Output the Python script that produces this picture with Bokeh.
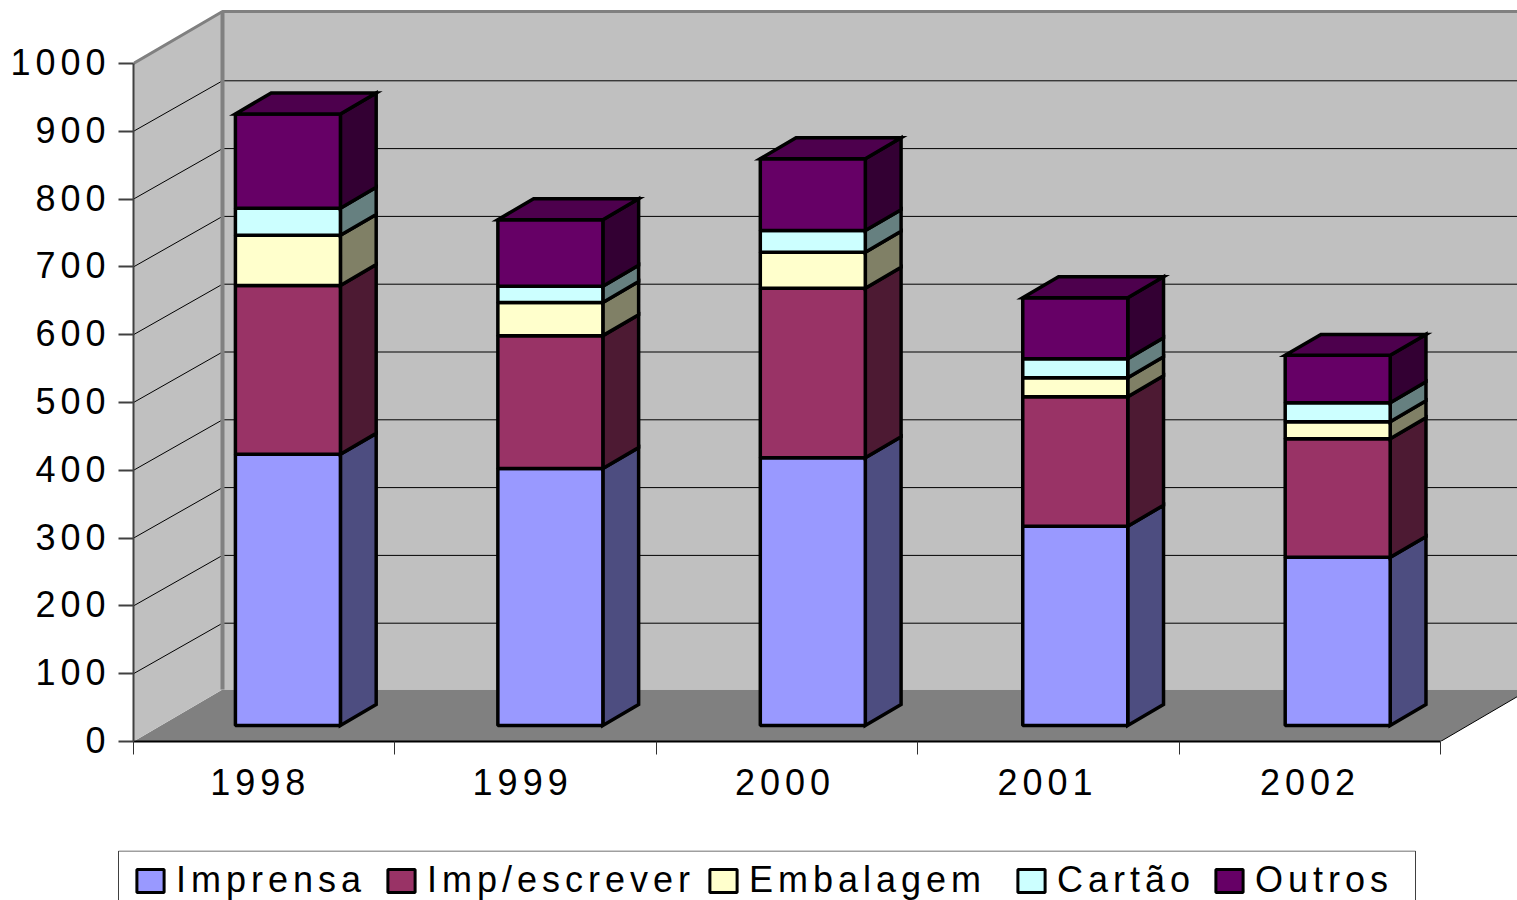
import numpy as np
from bokeh.core.properties import value
from bokeh.embed import file_html
from bokeh.layouts import column, row
from bokeh.resources import INLINE
from bokeh.plotting import figure
from bokeh.models import FixedTicker, LinearAxis, Legend, LegendItem, Range1d

years = ["1998", "1999", "2000", "2001", "2002"]
imprensa = [400, 379, 395, 294, 248]
imp_escrever = [249, 196, 250, 191, 175]
embalagem = [74, 49, 53, 28, 25]
cartao = [40, 24, 32, 28, 28]
outros = [139, 98, 106, 90, 70]
series_names = ["Imprensa", "Imp/escrever", "Embalagem", "Cartão", "Outros"]
value_ticks = list(range(0, 1001, 100))

front_colors = ["#9999FF", "#993366", "#FFFFCC", "#CCFFFF", "#660066"]
side_colors = ["#4D4D80", "#4D1A33", "#808066", "#668080", "#330033"]
top_color = "#4D004D"

FONT = "Liberation Sans"
FONT_PX = 36
LS = 5  # letter spacing of every text, px

# pixel layout of the 3D box
LABEL_W = 118
PX_LEFT, PX_ZERO, PX_1000 = 133, 741, 63
MAIN_H = 850
PX_CAT = (1440 - 133) / 5
PX_UNIT = (PX_ZERO - PX_1000) / 1000
X_END = (1517 - PX_LEFT) / PX_CAT
Y_END = PX_ZERO / PX_UNIT
DX = 89 / PX_CAT          # full depth, in category units
DV = 52 / PX_UNIT         # full depth, in value units
GRID_DROP = 1.5 / PX_UNIT
D_FRONT, D_BACK = 0.308, 0.71
BAR_PITCH, BAR_START, BAR_W = 1.004, 0.285, 105 / PX_CAT
EDGE = 3.5


def proj(x, v, d):
    return x + d * DX, v + d * DV


p = figure(width=1517 - LABEL_W, height=MAIN_H, x_range=(0, X_END), y_range=Range1d(0, Y_END),
           output_backend="svg", toolbar_location=None, x_axis_type=None, y_axis_type=None,
           min_border_left=PX_LEFT - LABEL_W, min_border_right=0, min_border_top=0,
           min_border_bottom=MAIN_H - PX_ZERO, outline_line_color=None, frame_align=False)
p.grid.visible = False

GRAY = "#C0C0C0"
n = len(years)
# floor
corners = [proj(0, 0, 0), proj(0, 0, 1), proj(n, 0, 1), proj(n, 0, 0)]
p.patch([c[0] for c in corners], [c[1] for c in corners], fill_color="#808080", line_color=None)
# walls
corners = [proj(0, 0, 0), proj(0, 1000, 0), proj(0, 1000, 1), proj(0, 0, 1)]
p.patch([c[0] for c in corners], [c[1] for c in corners], fill_color=GRAY, line_color=None)
corners = [proj(0, 0, 1), proj(0, 1000, 1), proj(n, 1000, 1), proj(n, 0, 1)]
p.patch([c[0] for c in corners], [c[1] for c in corners], fill_color=GRAY, line_color=None)
# gridlines
gx, gy = [], []
for t in value_ticks[1:-1]:
    a, b, c = proj(0, t, 0), proj(0, t, 1), proj(n, t, 1)
    gx.append([a[0], b[0], c[0]])
    gy.append([a[1], b[1] - GRID_DROP, c[1] - GRID_DROP])
p.multi_line(gx, gy, line_color="#000000", line_width=1)
# wall edges
a, b, c, d = proj(0, 1000, 0), proj(0, 1000, 1), proj(n, 1000, 1), proj(0, 0, 1)
p.line([a[0], b[0], c[0]], [a[1], b[1], c[1]], line_color="#808080", line_width=3)
p.line([b[0], d[0]], [b[1], d[1]], line_color="#808080", line_width=4)
# floor front-right edge
a, b = proj(n, 0, 0), proj(n, 0, 1)
p.line([a[0], b[0]], [a[1], b[1]], line_color="#000000", line_width=1)

# bars
series = [imprensa, imp_escrever, embalagem, cartao, outros]
cum = np.cumsum(np.array(series), axis=0)
lefts = [i * BAR_PITCH + BAR_START for i in range(n)]
for s in range(len(series)):
    bottoms = cum[s - 1] if s > 0 else np.zeros(n)
    tops = cum[s]
    sx, sy = [], []
    for i in range(n):
        r = lefts[i] + BAR_W
        pts = [proj(r, bottoms[i], D_FRONT), proj(r, tops[i], D_FRONT),
               proj(r, tops[i], D_BACK), proj(r, bottoms[i], D_BACK)]
        sx.append([q[0] for q in pts])
        sy.append([q[1] for q in pts])
    p.patches(sx, sy, fill_color=side_colors[s], line_color="#000000", line_width=EDGE, line_join="miter")
    p.quad(left=[proj(l, 0, D_FRONT)[0] for l in lefts],
           right=[proj(l + BAR_W, 0, D_FRONT)[0] for l in lefts],
           bottom=[proj(0, v, D_FRONT)[1] for v in bottoms],
           top=[proj(0, v, D_FRONT)[1] for v in tops],
           fill_color=front_colors[s], line_color="#000000", line_width=EDGE)
# top faces
tx, ty = [], []
for i in range(n):
    l, r, v = lefts[i], lefts[i] + BAR_W, cum[-1][i]
    pts = [proj(l, v, D_FRONT), proj(r, v, D_FRONT), proj(r, v, D_BACK), proj(l, v, D_BACK)]
    tx.append([q[0] for q in pts])
    ty.append([q[1] for q in pts])
p.patches(tx, ty, fill_color=top_color, line_color="#000000", line_width=EDGE, line_join="miter")

# value axis: line and ticks here, its labels in the strip at the left
ya = LinearAxis(ticker=FixedTicker(ticks=value_ticks), bounds=(0, 1000))
ya.major_label_overrides = {t: "" for t in value_ticks}
ya.major_label_text_font_size = "0px"
ya.major_label_standoff = 0
ya.major_tick_out = PX_LEFT - LABEL_W
ya.major_tick_in = 0
ya.major_tick_line_color = "#404040"
ya.major_tick_line_width = 2
ya.minor_tick_line_color = None
ya.axis_line_color = "#404040"
ya.axis_line_width = 2
p.add_layout(ya, "left")

# category axis: labels mid-category, separators as minor ticks
label_at = [i * BAR_PITCH + 0.5 - 14 / PX_CAT for i in range(n)]
xa = LinearAxis(ticker=FixedTicker(ticks=label_at, minor_ticks=list(range(n + 1))), bounds=(0, n))
xa.major_label_overrides = {t: y for t, y in zip(label_at, years)}
xa.major_label_text_font = FONT
xa.major_label_text_font_size = f"{FONT_PX}px"
xa.major_label_text_color = "#000000"
xa.major_tick_line_color = None
xa.major_tick_out = 0
xa.major_tick_in = 0
xa.minor_tick_out = 13
xa.minor_tick_in = 0
xa.minor_tick_line_color = "#303030"
xa.minor_tick_line_width = 1
xa.axis_line_color = "#000000"
xa.axis_line_width = 2
xa.major_label_standoff = 14
p.add_layout(xa, "below")

# value labels, end-aligned despite the letter spacing; same value scale as the main plot
STRIP_EXTRA = 30
left_strip = figure(width=LABEL_W, height=MAIN_H, x_range=(0, LABEL_W),
                    y_range=Range1d(-STRIP_EXTRA / PX_UNIT, Y_END),
                    output_backend="svg", toolbar_location=None, x_axis_type=None, y_axis_type=None,
                    min_border_left=0, min_border_right=0, min_border_top=0,
                    min_border_bottom=MAIN_H - PX_ZERO - STRIP_EXTRA, outline_line_color=None,
                    frame_align=False)
left_strip.grid.visible = False
labels = [str(t) for t in value_ticks]
left_strip.text(x=[105 - LS * (len(s) - 1) for s in labels], y=value_ticks, text=labels,
                y_offset=-1.5, text_align="right", text_baseline="middle", text_font=value(FONT),
                text_font_size=f"{FONT_PX}px", text_color="#000000")

# legend strip
legend_h = 900 - MAIN_H
strip = figure(width=1517, height=legend_h, x_range=(0, 1517), y_range=(0, legend_h),
               output_backend="svg", toolbar_location=None, x_axis_type=None, y_axis_type=None,
               min_border_left=0, min_border_right=0, min_border_top=0, min_border_bottom=0,
               outline_line_color=None, frame_align=False)
strip.grid.visible = False
strip.line([118, 118, 1415, 1415], [0, legend_h - 0.5, legend_h - 0.5, 0], line_color="#404040", line_width=1)
swatch_px = [135, 386, 708, 1016, 1214]
for name, color, sx in zip(series_names, front_colors, swatch_px):
    # off-range glyph: it only supplies the legend swatch
    r = strip.quad(left=[-20], right=[-10], top=[-10], bottom=[-20], fill_color=color,
                   line_color="#000000", line_width=3)
    lg = Legend(items=[LegendItem(label=name, renderers=[r])],
                location=(sx - 2, -1), orientation="horizontal",
                padding=0, margin=0, spacing=0, glyph_width=34, glyph_height=29,
                label_standoff=9, label_text_font=FONT, label_text_font_size=f"{FONT_PX}px",
                label_text_color="#000000", border_line_color=None,
                background_fill_color=None, background_fill_alpha=0)
    strip.add_layout(lg, "center")

page = column(row(left_strip, p, spacing=0), strip, spacing=0)
page.styles = {"position": "absolute", "left": "0px", "top": "0px", "letter-spacing": f"{LS}px"}

open("out.html", "w").write(file_html(page, INLINE))
